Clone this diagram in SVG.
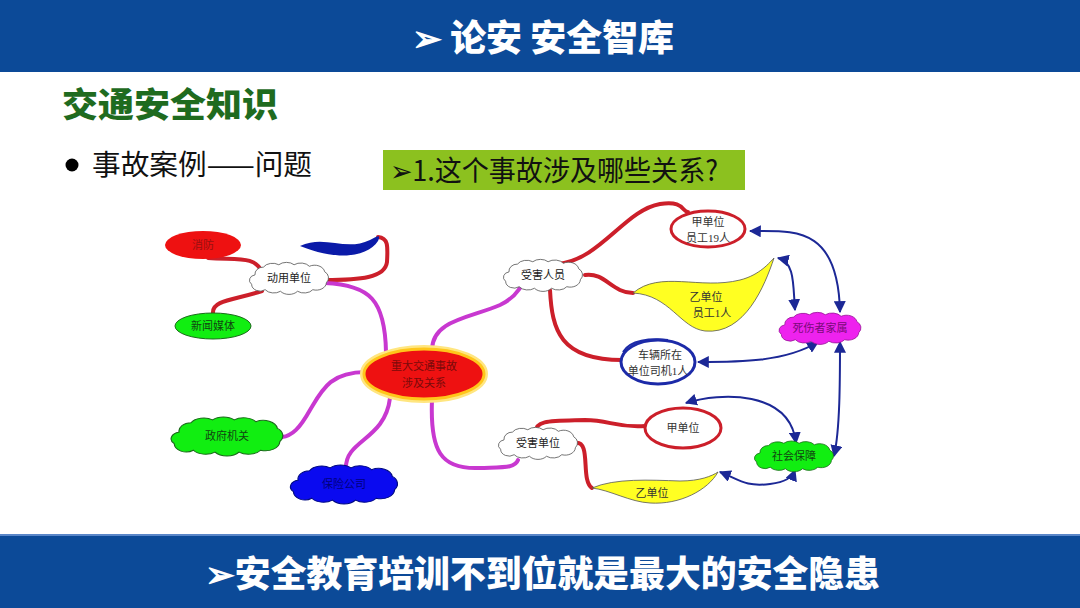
<svg xmlns="http://www.w3.org/2000/svg" width="1080" height="608" viewBox="0 0 1080 608">
<style>
.ban{fill:#0c4a98}
.hd{font-family:"Noto Sans CJK SC","Noto Sans",sans-serif;font-weight:900;fill:#fff}
.t{font-family:"Liberation Serif","Noto Sans CJK SC",serif;font-size:11px;text-anchor:middle}
.red{fill:none;stroke:#cc1f2a;stroke-width:4;stroke-linecap:round}
.mag{fill:none;stroke:#c838d0;stroke-width:4;stroke-linecap:round}
.blu{fill:none;stroke:#1c2896;stroke-width:2;marker-start:url(#ah);marker-end:url(#ah)}
.cl{vector-effect:non-scaling-stroke;stroke-width:1}
</style>
<defs>
<marker id="ah" viewBox="0 0 10 10" refX="9" refY="5" markerWidth="6" markerHeight="6" orient="auto-start-reverse" markerUnits="strokeWidth">
<path d="M0 0 L10 5 L0 10 Z" fill="#1c2896"/>
</marker>
<path id="cloud" d="M -40 -4 A 10 9 0 0 1 -30 -14 A 12 9 0 0 1 -12 -17 A 12 9 0 0 1 6 -17 A 12 9 0 0 1 24 -15 A 12 10 0 0 1 42 -8 A 9 9 0 0 1 44 6 A 12 10 0 0 1 28 15 A 12 9 0 0 1 10 17 A 12 9 0 0 1 -10 17 A 12 9 0 0 1 -28 15 A 10 9 0 0 1 -44 8 A 8 7 0 0 1 -40 -4 Z"/>
</defs>
<rect width="1080" height="608" fill="#fff"/>
<g id="header">
<rect class="ban" x="0" y="0" width="1080" height="72"/>
<text class="hd" x="412" y="51" font-size="36" textLength="262" lengthAdjust="spacingAndGlyphs">➢ 论安 安全智库</text>
</g>
<g id="footer">
<rect x="0" y="534" width="1080" height="2" fill="#5a86c8"/>
<rect class="ban" x="0" y="536" width="1080" height="72"/>
<text class="hd" x="205" y="587" font-size="36" textLength="675" lengthAdjust="spacingAndGlyphs">➢安全教育培训不到位就是最大的安全隐患</text>
</g>
<g id="title">
<text x="62" y="117" font-family="Noto Sans CJK SC,sans-serif" font-weight="900" font-size="34" fill="#1f6b1f" textLength="216" lengthAdjust="spacingAndGlyphs">交通安全知识</text>
</g>
<g id="bullet">
<circle cx="72" cy="165" r="6.5" fill="#000"/>
<text x="92" y="175" font-family="Noto Sans CJK SC,sans-serif" font-size="28" fill="#111" textLength="220" lengthAdjust="spacingAndGlyphs">事故案例——问题</text>
</g>
<g id="question">
<rect x="383" y="150" width="362" height="40" fill="#8cc11f"/>
<text x="390" y="181" font-family="Noto Sans CJK SC,sans-serif" font-size="28" fill="#111" textLength="328" lengthAdjust="spacingAndGlyphs">➢1.这个事故涉及哪些关系?</text>
</g>
<g id="connectors">
<path class="red" d="M 208 258 C 240 260 255 256 262 272"/>
<path class="red" d="M 213 313 C 212 300 235 300 262 291"/>
<path class="red" d="M 325 280 C 360 280 385 278 387 262 C 388 245 388 238 378 237"/>
<path class="mag" d="M 325 283 C 370 285 385 300 386 352"/>
<path class="mag" d="M 432 350 C 432 320 470 318 500 305 C 515 298 518 290 520 288"/>
<path class="mag" d="M 366 372 C 330 372 322 390 310 410 C 300 428 292 436 282 437"/>
<path class="mag" d="M 390 398 C 385 440 345 440 346 468"/>
<path class="mag" d="M 432 400 C 430 450 440 470 480 468 C 505 467 515 468 518 460"/>
<path class="red" d="M 558 264 C 600 260 625 210 660 204 C 684 200 682 212 688 212"/>
<path class="red" d="M 585 275 C 605 272 612 293 633 293"/>
<path class="red" d="M 550 290 C 552 330 560 360 622 360"/>
<path class="red" d="M 536 432 C 535 420 550 421 585 420 C 610 420 615 428 645 426"/>
<path class="red" d="M 575 443 C 592 440 580 480 592 488"/>
<path class="blu" d="M 750 231 C 790 232 838 222 840 312"/>
<path class="blu" d="M 778 258 C 795 262 793 285 795 310"/>
<path class="blu" d="M 698 362 C 740 362 785 362 818 342"/>
<path class="blu" d="M 840 342 C 840 380 840 430 834 456"/>
<path class="blu" d="M 686 403 C 720 392 790 390 796 443"/>
<path class="blu" d="M 720 472 C 740 480 745 487 770 484 C 785 482 792 478 795 470"/>
</g>
<g id="n-xiaofang">
<ellipse cx="203" cy="245" rx="38" ry="14" fill="#ee1111"/>
<text class="t" x="203" y="249" fill="#991010">消防</text>
</g>
<g id="n-dongyong">
<use href="#cloud" transform="translate(289 278) scale(0.85 0.78)" fill="#fff" stroke="#555" class="cl"/>
<text class="t" x="289" y="282" fill="#222">动用单位</text>
</g>
<g id="n-swoosh">
<path d="M 300 246 C 325 234 345 252 370 240 C 378 236 381 234 378 241 C 368 256 340 262 300 246 Z" fill="#0a1aa8"/>
</g>
<g id="n-xinwen">
<ellipse cx="213" cy="326" rx="38" ry="13" fill="#11ee11" stroke="#1a6a1a" stroke-width="1"/>
<text class="t" x="213" y="330" fill="#124412">新闻媒体</text>
</g>
<g id="n-center">
<ellipse cx="424" cy="374" rx="61" ry="26" fill="none" stroke="#ffe680" stroke-width="6"/>
<ellipse cx="424" cy="374" rx="60" ry="25" fill="#ee1111" stroke="#ffc61a" stroke-width="3"/>
<text class="t" x="424" y="370" fill="#7a0a0a" font-size="12">重大交通事故</text>
<text class="t" x="424" y="387" fill="#7a0a0a" font-size="12">涉及关系</text>
</g>
<g id="n-zhengfu">
<use href="#cloud" transform="translate(227 436) scale(1.2 0.95)" fill="#11ee11" stroke="#1a6a1a" class="cl"/>
<text class="t" x="227" y="440" fill="#124412">政府机关</text>
</g>
<g id="n-baoxian">
<use href="#cloud" transform="translate(344 484) scale(1.15 0.95)" fill="#0a0af0" stroke="#000a80" class="cl"/>
<text class="t" x="344" y="488" fill="#00007a">保险公司</text>
</g>
<g id="n-shouhai-ry">
<use href="#cloud" transform="translate(543 275) scale(0.85 0.78)" fill="#fff" stroke="#555" class="cl"/>
<text class="t" x="543" y="279" fill="#222">受害人员</text>
</g>
<g id="n-jia19">
<ellipse cx="708" cy="229" rx="37" ry="18" fill="#fff" stroke="#cc1f2a" stroke-width="3"/>
<text class="t" x="708" y="226" fill="#333">甲单位</text>
<text class="t" x="708" y="242" fill="#333">员工19人</text>
</g>
<g id="n-yi1">
<path d="M 633 293 C 660 270 700 290 740 280 C 760 275 770 262 774 258 C 765 285 745 335 705 331 C 680 328 670 295 633 293 Z" fill="#ffff22" stroke="#555" stroke-width="0.8"/>
<text class="t" x="706" y="301" fill="#333">乙单位</text>
<text class="t" x="712" y="317" fill="#333">员工1人</text>
</g>
<g id="n-siji">
<ellipse cx="658" cy="362" rx="37" ry="22" fill="#fff" stroke="#1c2aa8" stroke-width="3"/>
<path d="M 623 352 C 630 340 650 338 668 340" fill="none" stroke="#1c2aa8" stroke-width="2"/>
<text class="t" x="660" y="359" fill="#333">车辆所在</text>
<text class="t" x="658" y="375" fill="#333">单位司机1人</text>
</g>
<g id="n-jiashu">
<use href="#cloud" transform="translate(820 328) scale(0.88 0.78)" fill="#ee22ee" stroke="#9a149a" class="cl"/>
<text class="t" x="820" y="332" fill="#7a0a7a">死伤者家属</text>
</g>
<g id="n-shouhai-dw">
<use href="#cloud" transform="translate(538 443) scale(0.85 0.78)" fill="#fff" stroke="#555" class="cl"/>
<text class="t" x="538" y="447" fill="#222">受害单位</text>
</g>
<g id="n-jia">
<ellipse cx="683" cy="428" rx="38" ry="20" fill="#fff" stroke="#cc1f2a" stroke-width="3"/>
<text class="t" x="683" y="432" fill="#333">甲单位</text>
</g>
<g id="n-yi">
<path d="M 592 488 C 615 478 650 480 680 481 C 700 481 712 476 718 472 C 708 490 680 505 650 503 C 630 502 610 490 592 488 Z" fill="#ffff22" stroke="#555" stroke-width="0.8"/>
<text class="t" x="652" y="497" fill="#333">乙单位</text>
</g>
<g id="n-shebao">
<use href="#cloud" transform="translate(794 456) scale(0.85 0.75)" fill="#11ee11" stroke="#1a6a1a" class="cl"/>
<text class="t" x="794" y="460" fill="#124412">社会保障</text>
</g>
</svg>
